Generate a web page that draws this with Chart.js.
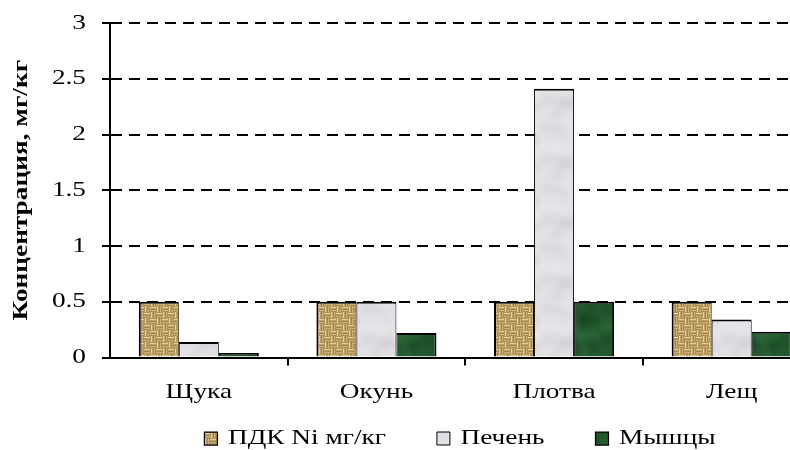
<!DOCTYPE html>
<html>
<head>
<meta charset="utf-8">
<script src="https://cdn.jsdelivr.net/npm/chart.js@4/dist/chart.umd.min.js"></script>
<style>
  html, body { margin: 0; padding: 0; overflow: hidden; background: #fff; }
  canvas { display: block; }
</style>
</head>
<body>
<canvas id="c" width="920" height="459"></canvas>
<script>
// Nickel content in fish tissues, mg/kg
const categories = ['Щука', 'Окунь', 'Плотва', 'Лещ'];
const pdkNi  = [0.5, 0.5, 0.5, 0.5];
const liver  = [0.14, 0.5, 2.41, 0.34];
const muscle = [0.04, 0.22, 0.5, 0.23];
const seriesNames = ['ПДК Ni мг/кг', 'Печень', 'Мышцы'];
const yTitle = 'Концентрация, мг/кг';

// wide-set type: glyphs are stretched along the text direction
const TEXT_STRETCH = 1.30;

function makeCanvas(w, h) {
  const c = document.createElement('canvas');
  c.width = w; c.height = h;
  return c;
}

// tan woven-mat texture
function wovenMat() {
  const s = 12, h = s / 2;
  const c = makeCanvas(s, s), g = c.getContext('2d');
  g.fillStyle = '#7e5d2b';
  g.fillRect(0, 0, s, s);
  const cells = [[0, 0, 'h'], [h, 0, 'v'], [0, h, 'v'], [h, h, 'h']];
  for (const [x, y, d] of cells) {
    for (let k = 0; k < 2; k++) {
      const o = k * 3;
      g.fillStyle = k ? '#cdb073' : '#e6cf8e';
      if (d === 'h') g.fillRect(x, y + o + 0.5, h, 2.1);
      else g.fillRect(x + o + 0.5, y, 2.1, h);
    }
  }
  return g.createPattern(c, 'repeat');
}

// soft marble texture
function marble(base, dark, light, size, alpha) {
  const c = makeCanvas(size, size), g = c.getContext('2d');
  g.fillStyle = base;
  g.fillRect(0, 0, size, size);
  g.filter = 'blur(3.5px)';
  const darkVeins = [
    [0, 10, 20, 0, 40, 30, 60, 18],
    [0, 44, 18, 30, 35, 56, 60, 46],
    [12, 60, 22, 40, 44, 36, 52, 0]
  ];
  const lightVeins = [
    [0, 28, 15, 20, 30, 42, 60, 32],
    [24, 0, 32, 18, 40, 34, 48, 60]
  ];
  g.globalAlpha = alpha;
  g.lineWidth = 5;
  g.strokeStyle = dark;
  for (const v of darkVeins) {
    g.beginPath(); g.moveTo(v[0], v[1]);
    g.bezierCurveTo(v[2], v[3], v[4], v[5], v[6], v[7]); g.stroke();
  }
  g.lineWidth = 4;
  g.strokeStyle = light;
  for (const v of lightVeins) {
    g.beginPath(); g.moveTo(v[0], v[1]);
    g.bezierCurveTo(v[2], v[3], v[4], v[5], v[6], v[7]); g.stroke();
  }
  g.filter = 'none';
  g.globalAlpha = 1;
  return g.createPattern(c, 'repeat');
}

const canvas = document.getElementById('c');
const ctx = canvas.getContext('2d');

// widen every piece of text the chart writes
(function widenText(c, k) {
  const P = CanvasRenderingContext2D.prototype;
  c.fillText = function (text, x, y, maxWidth) {
    this.save();
    this.translate(x, y);
    this.scale(k, 1);
    if (maxWidth !== undefined) P.fillText.call(this, text, 0, 0, maxWidth / k);
    else P.fillText.call(this, text, 0, 0);
    this.restore();
  };
  c.measureText = function (text) {
    const m = P.measureText.call(this, text);
    return {
      width: m.width * k,
      actualBoundingBoxLeft: m.actualBoundingBoxLeft * k,
      actualBoundingBoxRight: m.actualBoundingBoxRight * k,
      actualBoundingBoxAscent: m.actualBoundingBoxAscent,
      actualBoundingBoxDescent: m.actualBoundingBoxDescent,
      fontBoundingBoxAscent: m.fontBoundingBoxAscent,
      fontBoundingBoxDescent: m.fontBoundingBoxDescent
    };
  };
})(ctx, TEXT_STRETCH);

const fillPdk = wovenMat();
const fillLiver = marble('#e2e2e6', '#c4c4ca', '#f6f6f8', 60, 0.5);
const fillMuscle = marble('#235a2e', '#113a1a', '#3f7d4c', 60, 0.6);

// category labels hang below a thin axis band, so let them draw outside it
const unclipCategoryLabels = {
  id: 'unclipCategoryLabels',
  beforeDraw(chart) {
    const x = chart.scales.x;
    if (x) x._computeLabelArea = () => undefined;
  }
};

Chart.defaults.font.family = '"Liberation Serif", "Times New Roman", serif';
Chart.defaults.font.size = 21;
Chart.defaults.color = '#000';

new Chart(ctx, {
  type: 'bar',
  data: {
    labels: categories,
    datasets: [
      { label: seriesNames[0], data: pdkNi, backgroundColor: fillPdk, borderColor: '#000',
        borderWidth: { left: 2, right: 1, top: 2, bottom: 0 } },
      { label: seriesNames[1], data: liver, backgroundColor: fillLiver, borderColor: '#000',
        borderWidth: { left: 1, right: 1, top: 2, bottom: 0 } },
      { label: seriesNames[2], data: muscle, backgroundColor: fillMuscle, borderColor: '#000',
        borderWidth: { left: 1, right: 2, top: 2, bottom: 0 } }
    ]
  },
  plugins: [unclipCategoryLabels],
  options: {
    responsive: false,
    animation: false,
    layout: { autoPadding: false, padding: { top: 23, left: 0, right: 0, bottom: 0 } },
    datasets: { bar: { categoryPercentage: 0.676, barPercentage: 1 } },
    plugins: {
      legend: {
        position: 'bottom',
        labels: { boxWidth: 13, boxHeight: 13, padding: 51, color: '#000', font: { size: 21 } }
      },
      tooltip: { enabled: false }
    },
    scales: {
      x: {
        grid: {
          drawOnChartArea: false, drawTicks: true, tickLength: 8, lineWidth: 2, offset: true,
          tickColor: c => (c.index === 0 ? 'rgba(0,0,0,0)' : '#000')
        },
        border: { color: '#000', width: 2 },
        ticks: { padding: 14, color: '#000', font: { size: 21 } },
        afterFit(s) { s.height = 19.5; }
      },
      y: {
        min: 0, max: 3,
        ticks: { stepSize: 0.5, padding: 16, color: '#000', font: { size: 21, lineHeight: 0.4 }, callback: v => String(v) },
        grid: { color: '#000', lineWidth: 2, tickLength: 8, tickColor: '#000', tickBorderDash: [] },
        border: { color: '#000', width: 2, dash: [11, 7] },
        title: { display: true, text: yTitle, color: '#000', font: { size: 21, weight: 'bold' }, padding: { top: 8.5, bottom: 0 } },
        afterFit(s) { s.width = 110; }
      },
      yRight: {
        position: 'right',
        display: true,
        grid: { display: false },
        border: { display: false },
        ticks: { display: false },
        afterFit(s) { s.width = 99.5; }
      }
    }
  }
});
</script>
</body>
</html>
